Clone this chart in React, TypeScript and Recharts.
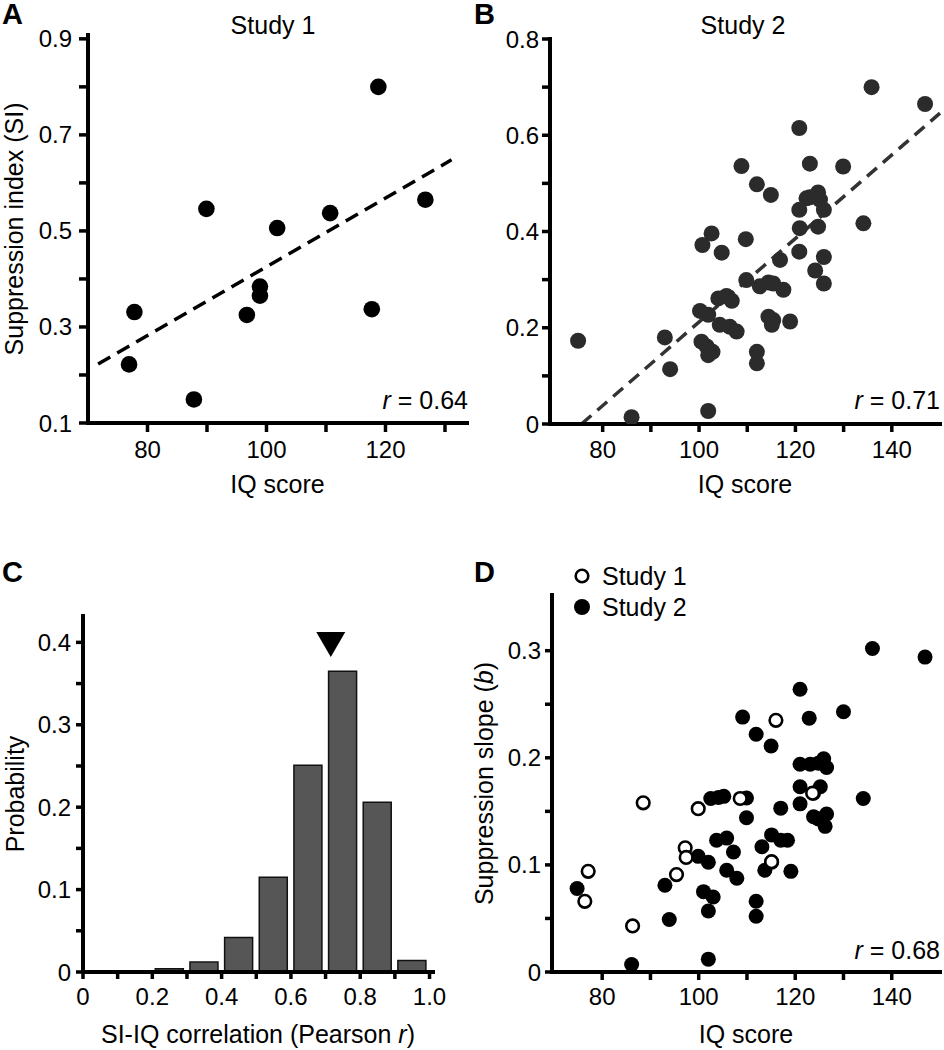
import React from 'react';
import {
  ScatterChart, Scatter, ComposedChart, Bar, XAxis, YAxis,
  ReferenceLine, ReferenceDot, Label, Legend,
} from 'recharts';

const FONT = '"Liberation Sans", Arial, Helvetica, sans-serif';

// A: Study 1, suppression index vs IQ
const s1Iq = [76.9, 77.8, 87.8, 89.9, 96.7, 98.9, 98.9, 101.8, 110.7, 117.7, 118.8, 126.7];
const s1Si = [0.222, 0.331, 0.149, 0.546, 0.325, 0.384, 0.365, 0.506, 0.537, 0.337, 0.8, 0.565];
const s1FitIq = [71.7, 131.1];
const s1FitSi = [0.223, 0.648];

// B: Study 2, suppression index vs IQ
const s2Iq = [
  74.9, 86.0, 92.9, 94.0, 101.9, 100.2, 101.9, 100.7, 102.6, 104.7, 100.5, 101.6, 102.8, 101.9,
  104.0, 105.7, 106.8, 104.3, 106.4, 107.8, 108.8, 109.7, 112.0, 114.9, 109.8, 112.0, 112.0,
  112.6, 114.4, 115.4, 117.5, 116.8, 114.4, 115.4, 115.1, 118.9, 120.8, 120.8, 120.9, 120.8,
  123.0, 123.0, 124.7, 125.1, 125.9, 124.7, 125.9, 124.1, 125.9, 129.9, 134.1, 135.8, 146.9, 122.3,
];
const s2Si = [
  0.173, 0.014, 0.18, 0.114, 0.027, 0.235, 0.227, 0.372, 0.396, 0.356, 0.171, 0.161, 0.15, 0.143,
  0.261, 0.266, 0.256, 0.206, 0.202, 0.192, 0.536, 0.384, 0.498, 0.476, 0.299, 0.15, 0.126,
  0.286, 0.294, 0.292, 0.279, 0.341, 0.223, 0.216, 0.206, 0.213, 0.615, 0.445, 0.407, 0.358,
  0.541, 0.471, 0.481, 0.466, 0.445, 0.41, 0.347, 0.319, 0.292, 0.535, 0.417, 0.7, 0.665, 0.469,
];
const s2FitIq = [75.6, 150];
const s2FitSi = [0, 0.646];

// C: distribution of SI-IQ correlation
const rBins = [0.05, 0.15, 0.25, 0.35, 0.45, 0.55, 0.65, 0.75, 0.85, 0.95];
const rProb = [0, 0, 0.004, 0.012, 0.042, 0.115, 0.251, 0.365, 0.206, 0.014];
const meanR = 0.715;
const markerProb = 0.398;

// D: suppression slope vs IQ
const d1Iq = [77.1, 76.4, 86.3, 88.5, 95.4, 97.2, 97.4, 99.9, 108.6, 115.1, 116.0, 123.6];
const d1Slope = [0.094, 0.066, 0.043, 0.158, 0.091, 0.116, 0.107, 0.1525, 0.162, 0.103, 0.235, 0.167];
const d2Iq = [
  74.8, 86.1, 93.0, 93.9, 102.0, 99.9, 102.0, 101.0, 103.0, 102.0, 102.5, 104.1, 105.2, 103.7,
  105.8, 107.2, 105.8, 107.9, 109.1, 109.9, 109.9, 111.9, 113.1, 111.9, 111.9, 113.7, 115.0,
  115.1, 117.0, 118.4, 117.0, 119.1, 115.1, 121.0, 122.9, 121.0, 123.1, 124.8, 125.9, 126.5,
  121.0, 125.2, 121.0, 123.8, 124.8, 126.5, 126.2, 130.0, 134.1, 136.0, 146.9, 123.8,
];
const d2Slope = [
  0.078, 0.007, 0.081, 0.049, 0.012, 0.108, 0.1025, 0.075, 0.07, 0.057, 0.162, 0.163, 0.164, 0.123,
  0.125, 0.112, 0.095, 0.0875, 0.238, 0.144, 0.1625, 0.222, 0.117, 0.066, 0.052, 0.095, 0.211,
  0.128, 0.123, 0.123, 0.153, 0.094, 0.1025, 0.264, 0.237, 0.194, 0.194, 0.195, 0.199, 0.191,
  0.173, 0.173, 0.157, 0.145, 0.143, 0.1475, 0.136, 0.243, 0.162, 0.302, 0.294, 0.167,
];

const iqTicksA = [80, 90, 100, 110, 120, 130];
const iqTicks = [80, 90, 100, 110, 120, 130, 140];
const siTicksA = [0.1, 0.2, 0.3, 0.4, 0.5, 0.6, 0.7, 0.8, 0.9];
const siTicksB = [0, 0.1, 0.2, 0.3, 0.4, 0.5, 0.6, 0.7, 0.8];
const probTicks = [0, 0.05, 0.1, 0.15, 0.2, 0.25, 0.3, 0.35, 0.4];
const corrTicks = [0, 0.1, 0.2, 0.3, 0.4, 0.5, 0.6, 0.7, 0.8, 0.9, 1.0];
const slopeTicks = [0, 0.05, 0.1, 0.15, 0.2, 0.25, 0.3];

const toPoints = (xs: number[], ys: number[]) => xs.map((x, i) => ({ x, y: ys[i] }));
const every20 = (v: number) => (v % 20 === 0 ? String(v) : '');
const everyOther = (v: number, i: number) => (i % 2 === 0 ? (v === 0 ? '0' : v.toFixed(1)) : '');

const axisLine = { stroke: '#000', strokeWidth: 4, strokeLinecap: 'square' as const };
const tickLine = { stroke: '#000', strokeWidth: 3.5 };
const tickFont = { fill: '#000', fontSize: 24, fontFamily: FONT };

// axis titles drawn from the axis viewBox so they can hold italic parts
const xTitle = (content: React.ReactNode, offset: number) => (props: any) => {
  const { x, y, width, height } = props.viewBox;
  return (
    <text x={x + width / 2} y={y + height - offset} textAnchor="middle" fontSize={25} fontFamily={FONT} fill="#000">
      {content}
    </text>
  );
};
const yTitle = (content: React.ReactNode, offset: number) => (props: any) => {
  const { x, y, height } = props.viewBox;
  const cx = x + offset;
  const cy = y + height / 2;
  return (
    <text x={cx} y={cy} dy="0.355em" textAnchor="middle" transform={`rotate(-90 ${cx} ${cy})`}
      fontSize={25} fontFamily={FONT} fill="#000">
      {content}
    </text>
  );
};

const dot = (r: number, fill: string) => (p: any) => <circle cx={p.cx} cy={p.cy} r={r} fill={fill} />;
const ring = (p: any) => <circle cx={p.cx} cy={p.cy} r={6.3} fill="#fff" stroke="#000" strokeWidth={2.6} />;
const triangle = (p: any) => (
  <path d={`M${p.cx - 14.5},${p.cy - 12} L${p.cx + 14.5},${p.cy - 12} L${p.cx},${p.cy + 13} Z`} fill="#000" />
);

const Note: React.FC<{ style: React.CSSProperties; children: React.ReactNode }> = ({ style, children }) => (
  <div style={{ position: 'absolute', fontFamily: FONT, fontSize: 25, lineHeight: 1, color: '#000', whiteSpace: 'nowrap', ...style }}>
    {children}
  </div>
);

const legendItems = [
  { name: 'Study 1', open: true },
  { name: 'Study 2', open: false },
];
const renderLegend = () => (
  <svg width={160} height={64}>
    {legendItems.map((item, i) => (
      <g key={item.name}>
        {item.open
          ? <circle cx={10} cy={15 + i * 31} r={6.3} fill="#fff" stroke="#000" strokeWidth={2.6} />
          : <circle cx={10} cy={15 + i * 31} r={8} fill="#000" />}
        <text x={30} y={15 + i * 31 + 9} fontSize={25} fontFamily={FONT} fill="#000">{item.name}</text>
      </g>
    ))}
  </svg>
);

export default function App() {
  return (
    <div style={{ position: 'absolute', left: 0, top: 0, width: 944, height: 1050, background: '#fff' }}>
      {/* A */}
      <div style={{ position: 'absolute', left: 0, top: 0 }}>
        <ScatterChart width={470} height={510} margin={{ top: 35, right: 3, left: 0, bottom: 0 }}>
          <XAxis type="number" dataKey="x" domain={[70, 133.7]} allowDataOverflow ticks={iqTicksA} interval={0}
            tickFormatter={every20} axisLine={axisLine} tickLine={tickLine} tickSize={9} tickMargin={9}
            tick={tickFont} height={87}>
            <Label content={xTitle('IQ score', 17)} />
          </XAxis>
          <YAxis type="number" dataKey="y" domain={[0.1, 0.908]} allowDataOverflow ticks={siTicksA} interval={0}
            tickFormatter={everyOther} axisLine={axisLine} tickLine={tickLine} tickSize={9} tickMargin={7}
            tick={tickFont} width={88}>
            <Label content={yTitle('Suppression index (SI)', 14)} />
          </YAxis>
          <ReferenceLine segment={[{ x: s1FitIq[0], y: s1FitSi[0] }, { x: s1FitIq[1], y: s1FitSi[1] }]}
            stroke="#000" strokeWidth={3.5} strokeDasharray="14 8" ifOverflow="visible" />
          <Scatter data={toPoints(s1Iq, s1Si)} shape={dot(8.3, '#000')} isAnimationActive={false} />
        </ScatterChart>
      </div>

      {/* B */}
      <div style={{ position: 'absolute', left: 470, top: 0 }}>
        <ScatterChart width={474} height={510} margin={{ top: 39, right: 4, left: 0, bottom: 0 }}>
          <XAxis type="number" dataKey="x" domain={[69.07, 150]} allowDataOverflow ticks={iqTicks} interval={0}
            tickFormatter={every20} axisLine={axisLine} tickLine={tickLine} tickSize={8} tickMargin={9}
            tick={tickFont} height={86}>
            <Label content={xTitle('IQ score', 17)} />
          </XAxis>
          <YAxis type="number" dataKey="y" domain={[0, 0.8]} allowDataOverflow ticks={siTicksB} interval={0}
            tickFormatter={everyOther} axisLine={axisLine} tickLine={tickLine} tickSize={8} tickMargin={3}
            tick={tickFont} width={80} />
          <ReferenceLine segment={[{ x: s2FitIq[0], y: s2FitSi[0] }, { x: s2FitIq[1], y: s2FitSi[1] }]}
            stroke="#333" strokeWidth={3.5} strokeDasharray="13 8" ifOverflow="visible" />
          <Scatter data={toPoints(s2Iq, s2Si)} shape={dot(8, '#2b2b2b')} isAnimationActive={false} />
        </ScatterChart>
      </div>

      {/* C */}
      <div style={{ position: 'absolute', left: 0, top: 510 }}>
        <ComposedChart width={470} height={540} data={rBins.map((r, i) => ({ r, p: rProb[i] }))}
          margin={{ top: 106, right: 37, left: 0, bottom: 0 }}>
          <XAxis type="number" dataKey="r" domain={[0, 1.01]} allowDataOverflow ticks={corrTicks} interval={0}
            tickFormatter={everyOther} axisLine={axisLine} tickLine={tickLine} tickSize={7} tickMargin={9}
            tick={tickFont} height={78}>
            <Label content={xTitle(<>SI-IQ correlation (Pearson <tspan fontStyle="italic">r</tspan>)</>, 7)} />
          </XAxis>
          <YAxis type="number" domain={[0, 0.432]} allowDataOverflow ticks={probTicks} interval={0}
            tickFormatter={everyOther} axisLine={axisLine} tickLine={tickLine} tickSize={7} tickMargin={5}
            tick={tickFont} width={83}>
            <Label content={yTitle('Probability', 15)} />
          </YAxis>
          <Bar dataKey="p" barSize={28} fill="#565656" stroke="#111" strokeWidth={1.5} isAnimationActive={false} />
          <ReferenceDot x={meanR} y={markerProb} shape={triangle} ifOverflow="visible" />
        </ComposedChart>
      </div>

      {/* D */}
      <div style={{ position: 'absolute', left: 470, top: 510 }}>
        <ScatterChart width={474} height={540} margin={{ top: 85, right: 4, left: 0, bottom: 0 }}>
          <XAxis type="number" dataKey="x" domain={[69.6, 150]} allowDataOverflow ticks={iqTicks} interval={0}
            tickFormatter={every20} axisLine={axisLine} tickLine={tickLine} tickSize={8} tickMargin={8}
            tick={tickFont} height={78}>
            <Label content={xTitle('IQ score', 7)} />
          </XAxis>
          <YAxis type="number" dataKey="y" domain={[0, 0.352]} allowDataOverflow ticks={slopeTicks} interval={0}
            tickFormatter={everyOther} axisLine={axisLine} tickLine={tickLine} tickSize={7} tickMargin={4}
            tick={tickFont} width={82}>
            <Label content={yTitle(<>Suppression slope (<tspan fontStyle="italic">b</tspan>)</>, 14)} />
          </YAxis>
          <Legend content={renderLegend} layout="vertical" align="center" verticalAlign="middle"
            wrapperStyle={{ left: 102, top: 51, width: 160, height: 64 }} />
          <Scatter name="Study 2" data={toPoints(d2Iq, d2Slope)} shape={dot(7.5, '#000')} isAnimationActive={false} />
          <Scatter name="Study 1" data={toPoints(d1Iq, d1Slope)} shape={ring} isAnimationActive={false} />
        </ScatterChart>
      </div>

      {/* panel letters, titles, r values */}
      <Note style={{ left: 2, top: 0, fontSize: 29, fontWeight: 'bold' }}>A</Note>
      <Note style={{ left: 474, top: 0, fontSize: 29, fontWeight: 'bold' }}>B</Note>
      <Note style={{ left: 2, top: 558, fontSize: 29, fontWeight: 'bold' }}>C</Note>
      <Note style={{ left: 474, top: 558, fontSize: 29, fontWeight: 'bold' }}>D</Note>
      <Note style={{ left: 273, top: 13, transform: 'translateX(-50%)' }}>Study 1</Note>
      <Note style={{ left: 743, top: 13, transform: 'translateX(-50%)' }}>Study 2</Note>
      <Note style={{ right: 476, top: 388 }}><i>r</i> = 0.64</Note>
      <Note style={{ right: 4, top: 388 }}><i>r</i> = 0.71</Note>
      <Note style={{ right: 4, top: 938 }}><i>r</i> = 0.68</Note>
    </div>
  );
}
